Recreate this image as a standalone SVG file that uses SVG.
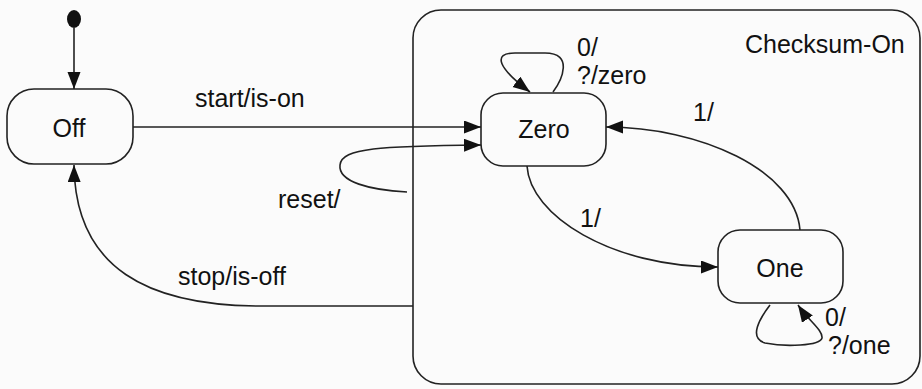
<svg xmlns="http://www.w3.org/2000/svg" width="922" height="389" viewBox="0 0 922 389">
<defs>
<marker id="ah" markerUnits="userSpaceOnUse" markerWidth="19" markerHeight="14" refX="17" refY="6.5" orient="auto"><path d="M0,0 L17,6.5 L0,13 z" fill="#111"/></marker>
</defs>
<style>
.st{fill:none;stroke:#222;stroke-width:1.6}
.cn{fill:none;stroke:#222;stroke-width:1.6}
text{font-family:"Liberation Sans",Arial,sans-serif;font-size:25px;fill:#111}
.c{text-anchor:middle}
</style>
<rect width="922" height="389" fill="#fbfbfb"/>
<g id="checksum-on"><rect class="st" x="413" y="10" width="507" height="374" rx="28"/><text x="745" y="53">Checksum-On</text></g>
<g id="initial"><ellipse cx="74" cy="19" rx="7" ry="9" fill="#111"/></g>
<g id="off"><rect class="st" x="7" y="89" width="126" height="75" rx="27"/><text class="c" x="69" y="137">Off</text></g>
<g id="zero"><rect class="st" x="481" y="93" width="125" height="73" rx="22"/><text class="c" x="544" y="138">Zero</text></g>
<g id="one"><rect class="st" x="718" y="230" width="125" height="73" rx="22"/><text class="c" x="780" y="277">One</text></g>
<g id="connectors">
<path class="cn" d="M74,28 L74,89" marker-end="url(#ah)"/>
<path class="cn" d="M133,127 L481,127" marker-end="url(#ah)"/>
<path class="cn" d="M407,192 C370,190 338,182 340,165 C342,148 380,146 481,145" marker-end="url(#ah)"/>
<path class="cn" d="M553,92 C562,80 574,53 545,53 L515,53 C492,53 498,68 530,92" marker-end="url(#ah)"/>
<path class="cn" d="M800,230 C795,170 700,127 606,127" marker-end="url(#ah)"/>
<path class="cn" d="M527,166 C530,215 610,267 718,267" marker-end="url(#ah)"/>
<path class="cn" d="M770,305 C760,318 748,338 765,343 C785,347 820,346 822,338 C823,330 808,320 798,305" marker-end="url(#ah)"/>
<path class="cn" d="M413,306 L257,306 C150,305 75,270 74,165" marker-end="url(#ah)"/>
<text x="195" y="107">start/is-on</text>
<text x="278" y="208">reset/</text>
<text x="178" y="285">stop/is-off</text>
<text x="577" y="56">0/</text>
<text x="577" y="84">?/zero</text>
<text x="693" y="121">1/</text>
<text x="580" y="227">1/</text>
<text x="825" y="326">0/</text>
<text x="828" y="354">?/one</text>
</g>
</svg>
